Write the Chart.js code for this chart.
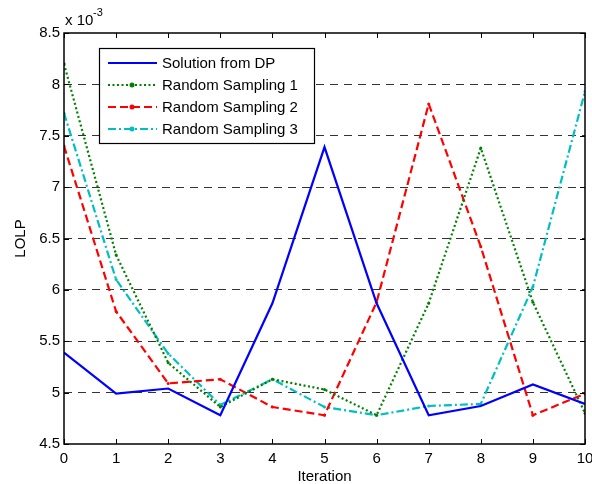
<!DOCTYPE html>
<html>
<head>
<meta charset="utf-8">
<script src="https://cdn.jsdelivr.net/npm/chart.js@4.4.1/dist/chart.umd.min.js"></script>
<style>
  html, body { margin: 0; padding: 0; background: #fff; }
  #c { display: block; }
</style>
</head>
<body>
<canvas id="c" width="592" height="484"></canvas>
<script>
// values, in units of 1e-3
const iterations = [0, 1, 2, 3, 4, 5, 6, 7, 8, 9, 10];
const dpSolution = [5.39, 4.99, 5.04, 4.78, 5.87, 7.39, 5.87, 4.78, 4.87, 5.08, 4.89];
const randSampling1 = [8.20, 6.34, 5.29, 4.86, 5.13, 5.03, 4.78, 5.87, 7.38, 5.88, 4.80];
const randSampling2 = [7.40, 5.79, 5.09, 5.13, 4.86, 4.78, 5.88, 7.81, 6.42, 4.78, 4.99];
const randSampling3 = [7.72, 6.10, 5.38, 4.88, 5.13, 4.86, 4.78, 4.87, 4.89, 6.03, 7.93];
const seriesNames = ["Solution from DP", "Random Sampling 1", "Random Sampling 2", "Random Sampling 3"];
const yTicks = [4.5, 5, 5.5, 6, 6.5, 7, 7.5, 8, 8.5];

const FONT = "'Liberation Sans', Arial, sans-serif";

function pts(vals){
  return vals.map((v, i) => ({x: iterations[i], y: v}));
}

// matlab style box, inside ticks, exponent label and legend
const matlabBits = {
  id: "matlabBits",
  afterDraw(chart){
    const ctx = chart.ctx;
    const a = chart.chartArea;
    const xs = chart.scales.x, ys = chart.scales.y;
    ctx.save();

    ctx.strokeStyle = "#000";
    ctx.lineWidth = 1;
    ctx.setLineDash([]);
    ctx.beginPath();
    for(const t of iterations){
      const px = Math.round(xs.getPixelForValue(t)) + 0.5;
      ctx.moveTo(px, a.bottom); ctx.lineTo(px, a.bottom - 5);
      ctx.moveTo(px, a.top); ctx.lineTo(px, a.top + 5);
    }
    for(const t of yTicks){
      const py = Math.round(ys.getPixelForValue(t)) + 0.5;
      ctx.moveTo(a.left, py); ctx.lineTo(a.left + 5, py);
      ctx.moveTo(a.right, py); ctx.lineTo(a.right - 5, py);
    }
    ctx.stroke();

    ctx.lineWidth = 1.5;
    ctx.strokeRect(a.left, a.top, a.right - a.left, a.bottom - a.top);

    // exponent
    ctx.fillStyle = "#000";
    ctx.textBaseline = "alphabetic";
    ctx.textAlign = "left";
    ctx.font = "15px " + FONT;
    ctx.fillText("x 10", 65, 25);
    ctx.font = "11px " + FONT;
    ctx.fillText("-3", 93, 16);

    // legend
    const bx = 99, by = 48, bw = 215, bh = 95;
    ctx.fillStyle = "#fff";
    ctx.fillRect(bx, by, bw, bh);
    ctx.lineWidth = 1.2;
    ctx.strokeStyle = "#000";
    ctx.strokeRect(bx + 0.5, by + 0.5, bw, bh);

    const rows = [63, 85, 107, 129];
    chart.data.datasets.forEach((ds, i) => {
      const y = rows[i];
      ctx.strokeStyle = ds.borderColor;
      ctx.lineWidth = ds.borderWidth;
      ctx.setLineDash(ds.borderDash || []);
      ctx.beginPath();
      ctx.moveTo(108, y); ctx.lineTo(157, y);
      ctx.stroke();
      ctx.setLineDash([]);
      if(ds.pointRadius > 0){
        ctx.fillStyle = ds.borderColor;
        ctx.beginPath();
        ctx.arc(132, y, 2.5, 0, Math.PI * 2);
        ctx.fill();
      }
      ctx.fillStyle = "#000";
      ctx.font = "15px " + FONT;
      ctx.textBaseline = "middle";
      ctx.fillText(ds.label, 162, y + 1);
    });

    ctx.restore();
  }
};

new Chart(document.getElementById("c"), {
  type: "line",
  data: {
    datasets: [
      { label: seriesNames[0], data: pts(dpSolution), borderColor: "#0000ff", borderWidth: 2.2, pointRadius: 0 },
      { label: seriesNames[1], data: pts(randSampling1), borderColor: "#008000", borderWidth: 2.2, borderDash: [2, 2.5], pointRadius: 1.5, pointBackgroundColor: "#008000", pointBorderWidth: 0 },
      { label: seriesNames[2], data: pts(randSampling2), borderColor: "#ff0000", borderWidth: 2.2, borderDash: [8, 4], pointRadius: 1.5, pointBackgroundColor: "#ff0000", pointBorderWidth: 0 },
      { label: seriesNames[3], data: pts(randSampling3), borderColor: "#00bfbf", borderWidth: 2.2, borderDash: [8, 3, 2, 3], pointRadius: 1.5, pointBackgroundColor: "#00bfbf", pointBorderWidth: 0 }
    ]
  },
  options: {
    responsive: false,
    animation: false,
    devicePixelRatio: 1,
    layout: { padding: { top: 33, right: 7, left: 0, bottom: 0 } },
    elements: { line: { tension: 0, fill: false } },
    plugins: { legend: { display: false }, tooltip: { enabled: false } },
    scales: {
      x: {
        type: "linear",
        min: 0, max: 10,
        afterFit(s){ s.height = 40; s.paddingLeft = 0; s.paddingRight = 0; },
        afterBuildTicks(s){ s.ticks = iterations.map(v => ({value: v})); },
        grid: { display: false, drawTicks: false },
        border: { display: false },
        ticks: { color: "#000", padding: 6, maxRotation: 0, font: { family: FONT, size: 15 }, callback: v => String(v) },
        title: { display: true, text: "Iteration", color: "#000", font: { family: FONT, size: 15, lineHeight: 0.9 }, padding: { top: 0, bottom: 0 } }
      },
      y: {
        min: 4.5, max: 8.5,
        afterFit(s){ s.width = 64; s.paddingTop = 0; s.paddingBottom = 0; },
        afterBuildTicks(s){ s.ticks = yTicks.map(v => ({value: v})); },
        grid: {
          drawTicks: false,
          color: c => (c.tick && (c.tick.value === 4.5 || c.tick.value === 8.5)) ? "rgba(0,0,0,0)" : "#333",
          lineWidth: 1
        },
        border: { display: false, dash: [8, 6] },
        ticks: { color: "#000", padding: 4, font: { family: FONT, size: 15 }, callback: v => String(v) },
        title: { display: true, text: "LOLP", color: "#000", font: { family: FONT, size: 15, lineHeight: 1.2 }, padding: { top: 12, bottom: 0 } }
      }
    }
  },
  plugins: [matlabBits]
});
</script>
</body>
</html>
